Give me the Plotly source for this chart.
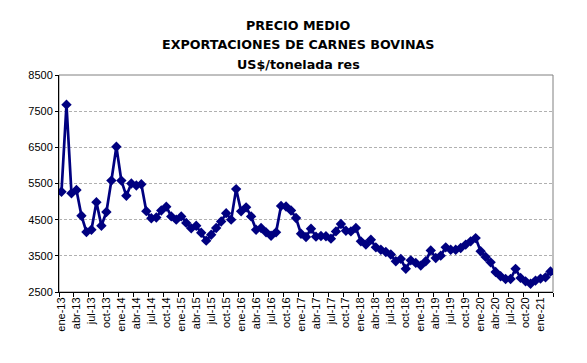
import plotly.graph_objects as go

months = ["ene", "feb", "mar", "abr", "may", "jun", "jul", "ago", "sep", "oct", "nov", "dic"]
categories = [f"{m}-{y:02d}" for y in range(13, 22) for m in months][:99]

precio = [
    # 2013
    5270, 7680, 5230, 5320, 4610, 4160, 4220, 4985, 4330, 4710, 5580, 6515,
    # 2014
    5580, 5160, 5500, 5445, 5480, 4735, 4540, 4560, 4755, 4860, 4590, 4500,
    # 2015
    4590, 4410, 4260, 4330, 4140, 3920, 4085, 4270, 4450, 4680, 4500, 5345,
    # 2016
    4730, 4840, 4590, 4220, 4270, 4150, 4055, 4150, 4880, 4865, 4755, 4545,
    # 2017
    4110, 4020, 4250, 4030, 4050, 4040, 3975, 4175, 4380, 4195, 4175, 4270,
    # 2018
    3900, 3810, 3945, 3735, 3670, 3605, 3535, 3350, 3415, 3140, 3375, 3305,
    # 2019
    3230, 3350, 3650, 3440, 3505, 3735, 3670, 3670, 3715, 3810, 3900, 3990,
    # 2020
    3625, 3470, 3320, 3055, 2935, 2860, 2860, 3140, 2890, 2795, 2730, 2815,
    # 2021
    2870, 2905, 3065,
]

tick_idx = list(range(0, len(categories), 3))
tick_labels = [categories[i] for i in tick_idx]
y_ticks = [2500, 3500, 4500, 5500, 6500, 7500, 8500]

title_lines = ["PRECIO MEDIO", "EXPORTACIONES DE CARNES BOVINAS", "US$/tonelada res"]

x = list(range(len(precio)))

fig = go.Figure()
fig.add_trace(go.Scatter(
    x=x, y=precio, mode="lines+markers",
    line=dict(color="#000080", width=2.7),
    marker=dict(symbol="diamond", size=8, color="#000080"),
    showlegend=False,
))

font_family = "Liberation Sans, Arial, sans-serif"

# page body has an 8px default margin; compensate
L, R, T, B = 51, 42, 67, 79
W, H = 587, 363
plot_w = W - L - R
plot_h = H - T - B

fig.update_layout(
    width=W, height=H,
    margin=dict(l=L, r=R, t=T, b=B, autoexpand=False),
    paper_bgcolor="white", plot_bgcolor="white",
    font=dict(family=font_family, size=11, color="black"),
)

fig.update_xaxes(
    range=[-0.5, len(precio) - 0.5],
    tickmode="array", tickvals=tick_idx, ticktext=tick_labels,
    tickangle=-90, tickfont=dict(size=11),
    ticks="", showgrid=False, zeroline=False,
    showline=True, linecolor="black", linewidth=1,
    minor=dict(tick0=-0.5, dtick=3, ticks="outside", ticklen=4, tickcolor="black", showgrid=False),
)
fig.update_yaxes(
    range=[2500, 8500],
    tickmode="array", tickvals=y_ticks,
    ticks="outside", ticklen=3, tickcolor="black",
    showgrid=True, gridcolor="#b0b0b0", griddash="3px,2px", gridwidth=1,
    zeroline=False, showline=True, linecolor="black", linewidth=1,
    tickfont=dict(size=11),
)

fig.add_shape(type="rect", xref="paper", yref="paper", x0=0, y0=0, x1=1, y1=1,
              line=dict(color="#808080", width=1), layer="below")

cx = (290 - L) / plot_w
for t, yp in zip(title_lines, [18, 37, 56]):
    fig.add_annotation(
        text=f"<b>{t}</b>", xref="paper", yref="paper",
        x=cx, y=1 + (T - yp) / plot_h,
        xanchor="center", yanchor="middle", showarrow=False,
        font=dict(size=12.7, family="DejaVu Sans, sans-serif", color="black"),
    )

fig.write_html("out.html")
